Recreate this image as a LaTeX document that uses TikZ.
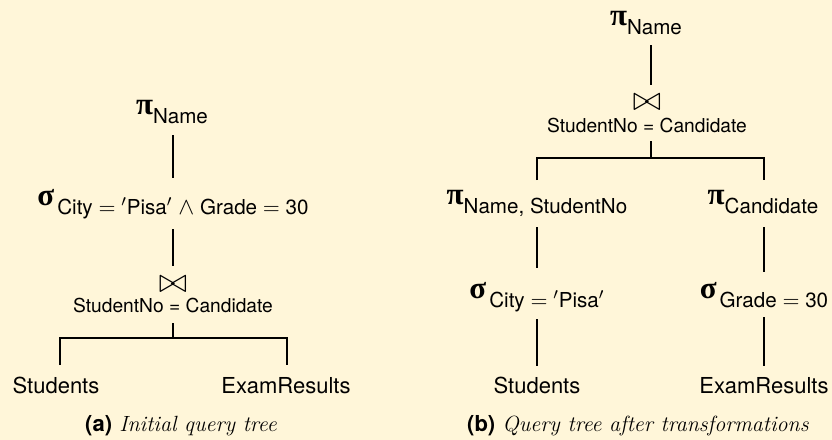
\documentclass[tikz,border=0pt]{standalone}
\usepackage{amsmath,amssymb}
\usepackage{fontspec}
\setsansfont{TeX Gyre Heros}
\newfontfamily\grkfont{Liberation Serif}
\definecolor{bgc}{RGB}{255,246,217}
\newcommand\myop[3][0pt]{{\fontsize{15.5}{15}\selectfont\grkfont\bfseries #2}\kern#1\raisebox{-4.6pt}{\fontsize{10.3}{12}\selectfont\sffamily #3}}
\newcommand\meq{{\fontsize{11}{12}\selectfont$=$}}
\newcommand\mand{{\fontsize{11.5}{12}\selectfont$\wedge$}}
\newcommand\mpr{{\fontsize{11}{12}\selectfont${}'$}}
\begin{document}
\begin{tikzpicture}[x=0.5pt,y=-0.5pt,
  lbl/.style={anchor=base,inner sep=0pt,font=\fontsize{11}{13}\selectfont\sffamily},
  jcond/.style={anchor=base,inner sep=0pt,font=\fontsize{9.6}{11}\selectfont\sffamily},
  opn/.style={anchor=base,inner sep=0pt},
  jsym/.style={anchor=base,inner sep=0pt,font=\fontsize{19}{19}\selectfont},
  captxt/.style={anchor=base,inner sep=0pt,font=\fontsize{11}{13}\selectfont},
  edge/.style={line width=0.9pt,black}]
\fill[bgc] (0,0) rectangle (832,440);
\useasboundingbox (0,0) rectangle (832,440);
% ---------- (a)
\node[opn] (pA) at (172,114) {\myop{π}{Name}};
\node[opn] (sA) at (173,205) {\myop[1.5pt]{σ}{City \meq{} \mpr Pisa\mpr{} \mand{} Grade \meq{} 30}};
\node[jsym] (jA) at (173,292) {$\bowtie$};
\node[jcond] (cA) at (173,312) {StudentNo = Candidate};
\node[lbl] (stA) at (56,393) {Students};
\node[lbl] (exA) at (286,393) {ExamResults};
\node[captxt] (capA) at (181,431) {{\sffamily\bfseries (a)} \textit{Initial query tree}};
\coordinate (barA) at (173,338);
\draw[edge] (173,135) -- (173,178);
\draw[edge] (173,229) -- (173,266);
\draw[edge] (173,323) -- (barA);
\draw[edge] (60,365) |- (barA) -| (287,365);
% ---------- (b)
\node[opn] (pB) at (646,25) {\myop{π}{Name}};
\node[jsym] (jB) at (647,110) {$\bowtie$};
\node[jcond] (cB) at (647,132) {StudentNo = Candidate};
\node[opn] (pL) at (537,204) {\myop{π}{Name, StudentNo}};
\node[opn] (pR) at (763,204) {\myop{π}{Candidate}};
\node[opn] (sL) at (537,298) {\myop[1.5pt]{σ}{City \meq{} \mpr Pisa\mpr}};
\node[opn] (sR) at (764,298) {\myop[1.5pt]{σ}{Grade \meq{} 30}};
\node[lbl] (stB) at (537,393) {Students};
\node[lbl] (exB) at (764,393) {ExamResults};
\node[captxt] (capB) at (638,431) {{\sffamily\bfseries (b)} \textit{Query tree after transformations}};
\coordinate (barB) at (651,158);
\draw[edge] (651,45) -- (651,85);
\draw[edge] (651,141) -- (barB);
\draw[edge] (537,180) |- (barB) -| (764,180);
\draw[edge] (537,227) -- (537,268);
\draw[edge] (764,227) -- (764,272);
\draw[edge] (537,319) -- (537,366);
\draw[edge] (764,317) -- (764,366);
\end{tikzpicture}
\end{document}
